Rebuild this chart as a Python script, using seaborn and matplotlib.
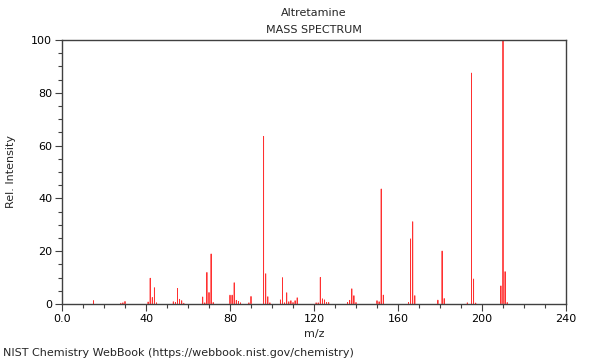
import matplotlib
matplotlib.use("Agg")
import matplotlib.pyplot as plt
import seaborn as sns
import pandas as pd
from matplotlib.ticker import FixedLocator, MultipleLocator, FixedFormatter

title = "Altretamine"
subtitle = "MASS SPECTRUM"
x_label = "m/z"
y_label = "Rel. Intensity"
credit = "NIST Chemistry WebBook (https://webbook.nist.gov/chemistry)"

mz = [15, 28, 29, 30, 41, 42, 43, 44, 45, 53, 54, 55, 56, 57, 58,
      67, 68, 69, 70, 71, 72, 80, 81, 82, 83, 84, 85, 89, 90,
      96, 97, 98, 99, 104, 105, 106, 107, 108, 109, 110, 111, 112,
      121, 122, 123, 124, 125, 126, 127, 136, 137, 138, 139, 140,
      150, 151, 152, 153, 165, 166, 167, 168, 179, 181, 182,
      193, 195, 196, 197, 209, 210, 211, 212]
intensity = [1.3, 0.3, 0.5, 1.0, 0.8, 9.8, 2.5, 6.2, 0.5, 0.9, 0.6, 5.9, 1.8, 1.3, 0.3,
             2.7, 0.5, 12.0, 4.4, 19.0, 0.6, 3.4, 3.4, 8.1, 1.4, 1.0, 0.5, 0.5, 2.9,
             63.5, 11.5, 2.8, 0.5, 1.6, 10.0, 0.5, 4.3, 0.9, 1.3, 0.6, 1.3, 2.4,
             0.5, 0.5, 10.1, 2.0, 1.6, 0.6, 0.6, 0.6, 1.4, 5.8, 3.2, 0.6,
             1.3, 0.9, 43.6, 3.4, 0.6, 24.7, 31.2, 3.2, 1.5, 20.1, 2.1,
             0.5, 87.5, 9.5, 0.4, 6.9, 100.0, 12.3, 0.6]

x_ticks = [0, 40, 80, 120, 160, 200, 240]
x_tick_labels = ["0.0", "40", "80", "120", "160", "200", "240"]
y_ticks = [0, 20, 40, 60, 80, 100]

df = pd.DataFrame({"mz": mz, "intensity": intensity})

sns.set_theme(style="ticks")
plt.rcParams["font.family"] = ["DejaVu Sans"]

fig = plt.figure(figsize=(6, 3.6), dpi=100)
ax = fig.add_axes([62 / 600, 1 - 304 / 360, 504 / 600, 264 / 360])

bar_color = "#ff3030"
sns.barplot(data=df, x="mz", y="intensity", native_scale=True, orient="x",
            width=0.02, color=bar_color, saturation=1, errorbar=None,
            linewidth=0.6, edgecolor=bar_color, ax=ax)
for p in ax.patches:
    p.set_snap(False)

ax.set_xlim(0, 240)
ax.set_ylim(0, 100)
ax.xaxis.set_major_locator(FixedLocator(x_ticks))
ax.xaxis.set_major_formatter(FixedFormatter(x_tick_labels))
ax.xaxis.set_minor_locator(MultipleLocator(10))
ax.yaxis.set_major_locator(FixedLocator(y_ticks))
ax.yaxis.set_minor_locator(MultipleLocator(5))

for s in ax.spines.values():
    s.set_visible(True)
    s.set_color("#404040")
    s.set_linewidth(1.0)

ax.tick_params(which="major", direction="out", length=5, width=0.8,
               color="#404040", labelsize=8, labelcolor="black", pad=2)
ax.tick_params(which="minor", direction="out", length=3, width=0.8,
               color="#404040")
ax.tick_params(axis="x", which="both", top=False)
ax.tick_params(axis="y", which="both", right=False)

ax.set_xlabel(x_label, fontsize=8, labelpad=4)
ax.set_ylabel(y_label, fontsize=8, labelpad=11)

fig.text(314 / 600, 1 - 13 / 360, title, ha="center", va="center", fontsize=8)
fig.text(314 / 600, 1 - 30 / 360, subtitle, ha="center", va="center", fontsize=8)
fig.text(3 / 600, 1 - 353 / 360, credit, ha="left", va="center", fontsize=8)

fig.savefig("out.png", dpi=100)
